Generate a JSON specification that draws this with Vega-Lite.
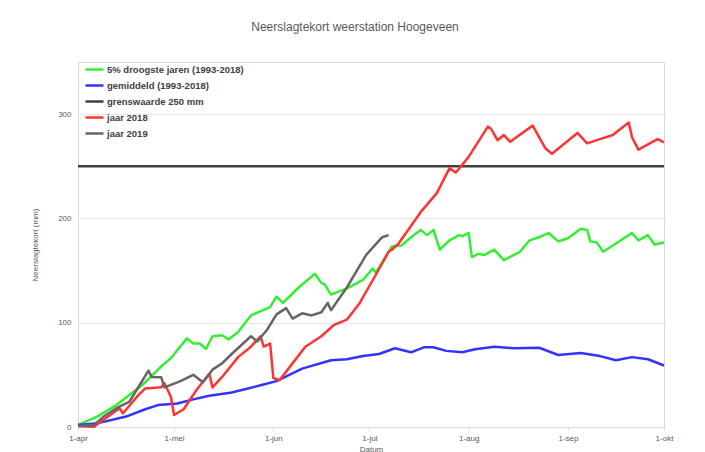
{
  "$schema": "https://vega.github.io/schema/vega-lite/v6.json",
  "autosize": "none",
  "width": 586,
  "height": 365,
  "padding": {"left": 78, "top": 62, "right": 41, "bottom": 25},
  "background": "white",
  "title": {"text": "Neerslagtekort weerstation Hoogeveen", "font": "Liberation Sans", "fontSize": 12, "fontWeight": "normal", "color": "#595959", "offset": 25, "dx": -16},
  "config": {
    "view": {"stroke": "#d9d9d9", "strokeWidth": 1},
    "font": "Liberation Sans"
  },
  "datasets": {
    "d": [
      {"serie": "5% droogste jaren (1993-2018)", "datum": "2018-04-01", "mm": 2},
      {"serie": "5% droogste jaren (1993-2018)", "datum": "2018-04-07", "mm": 10},
      {"serie": "5% droogste jaren (1993-2018)", "datum": "2018-04-13", "mm": 21},
      {"serie": "5% droogste jaren (1993-2018)", "datum": "2018-04-21", "mm": 40},
      {"serie": "5% droogste jaren (1993-2018)", "datum": "2018-04-27", "mm": 58},
      {"serie": "5% droogste jaren (1993-2018)", "datum": "2018-04-30", "mm": 66},
      {"serie": "5% droogste jaren (1993-2018)", "datum": "2018-05-05", "mm": 85},
      {"serie": "5% droogste jaren (1993-2018)", "datum": "2018-05-07", "mm": 80},
      {"serie": "5% droogste jaren (1993-2018)", "datum": "2018-05-09", "mm": 80},
      {"serie": "5% droogste jaren (1993-2018)", "datum": "2018-05-11", "mm": 75},
      {"serie": "5% droogste jaren (1993-2018)", "datum": "2018-05-13", "mm": 87},
      {"serie": "5% droogste jaren (1993-2018)", "datum": "2018-05-16", "mm": 88},
      {"serie": "5% droogste jaren (1993-2018)", "datum": "2018-05-18", "mm": 84},
      {"serie": "5% droogste jaren (1993-2018)", "datum": "2018-05-21", "mm": 91},
      {"serie": "5% droogste jaren (1993-2018)", "datum": "2018-05-25", "mm": 107},
      {"serie": "5% droogste jaren (1993-2018)", "datum": "2018-05-31", "mm": 115},
      {"serie": "5% droogste jaren (1993-2018)", "datum": "2018-06-02", "mm": 125},
      {"serie": "5% droogste jaren (1993-2018)", "datum": "2018-06-04", "mm": 119},
      {"serie": "5% droogste jaren (1993-2018)", "datum": "2018-06-09", "mm": 134},
      {"serie": "5% droogste jaren (1993-2018)", "datum": "2018-06-14", "mm": 147},
      {"serie": "5% droogste jaren (1993-2018)", "datum": "2018-06-16", "mm": 138},
      {"serie": "5% droogste jaren (1993-2018)", "datum": "2018-06-17", "mm": 137},
      {"serie": "5% droogste jaren (1993-2018)", "datum": "2018-06-19", "mm": 127},
      {"serie": "5% droogste jaren (1993-2018)", "datum": "2018-06-24", "mm": 133},
      {"serie": "5% droogste jaren (1993-2018)", "datum": "2018-06-29", "mm": 141},
      {"serie": "5% droogste jaren (1993-2018)", "datum": "2018-07-02", "mm": 152},
      {"serie": "5% droogste jaren (1993-2018)", "datum": "2018-07-03", "mm": 148},
      {"serie": "5% droogste jaren (1993-2018)", "datum": "2018-07-08", "mm": 173},
      {"serie": "5% droogste jaren (1993-2018)", "datum": "2018-07-11", "mm": 174},
      {"serie": "5% droogste jaren (1993-2018)", "datum": "2018-07-14", "mm": 182},
      {"serie": "5% droogste jaren (1993-2018)", "datum": "2018-07-17", "mm": 189},
      {"serie": "5% droogste jaren (1993-2018)", "datum": "2018-07-19", "mm": 184},
      {"serie": "5% droogste jaren (1993-2018)", "datum": "2018-07-21", "mm": 189},
      {"serie": "5% droogste jaren (1993-2018)", "datum": "2018-07-23", "mm": 170},
      {"serie": "5% droogste jaren (1993-2018)", "datum": "2018-07-26", "mm": 179},
      {"serie": "5% droogste jaren (1993-2018)", "datum": "2018-07-29", "mm": 184},
      {"serie": "5% droogste jaren (1993-2018)", "datum": "2018-07-30", "mm": 183},
      {"serie": "5% droogste jaren (1993-2018)", "datum": "2018-08-01", "mm": 186},
      {"serie": "5% droogste jaren (1993-2018)", "datum": "2018-08-02", "mm": 163},
      {"serie": "5% droogste jaren (1993-2018)", "datum": "2018-08-04", "mm": 166},
      {"serie": "5% droogste jaren (1993-2018)", "datum": "2018-08-06", "mm": 165},
      {"serie": "5% droogste jaren (1993-2018)", "datum": "2018-08-09", "mm": 170},
      {"serie": "5% droogste jaren (1993-2018)", "datum": "2018-08-12", "mm": 160},
      {"serie": "5% droogste jaren (1993-2018)", "datum": "2018-08-17", "mm": 168},
      {"serie": "5% droogste jaren (1993-2018)", "datum": "2018-08-20", "mm": 179},
      {"serie": "5% droogste jaren (1993-2018)", "datum": "2018-08-23", "mm": 182},
      {"serie": "5% droogste jaren (1993-2018)", "datum": "2018-08-26", "mm": 186},
      {"serie": "5% droogste jaren (1993-2018)", "datum": "2018-08-29", "mm": 178},
      {"serie": "5% droogste jaren (1993-2018)", "datum": "2018-09-01", "mm": 181},
      {"serie": "5% droogste jaren (1993-2018)", "datum": "2018-09-05", "mm": 190},
      {"serie": "5% droogste jaren (1993-2018)", "datum": "2018-09-07", "mm": 189},
      {"serie": "5% droogste jaren (1993-2018)", "datum": "2018-09-08", "mm": 178},
      {"serie": "5% droogste jaren (1993-2018)", "datum": "2018-09-10", "mm": 177},
      {"serie": "5% droogste jaren (1993-2018)", "datum": "2018-09-12", "mm": 168},
      {"serie": "5% droogste jaren (1993-2018)", "datum": "2018-09-16", "mm": 176},
      {"serie": "5% droogste jaren (1993-2018)", "datum": "2018-09-21", "mm": 186},
      {"serie": "5% droogste jaren (1993-2018)", "datum": "2018-09-23", "mm": 179},
      {"serie": "5% droogste jaren (1993-2018)", "datum": "2018-09-26", "mm": 184},
      {"serie": "5% droogste jaren (1993-2018)", "datum": "2018-09-28", "mm": 175},
      {"serie": "5% droogste jaren (1993-2018)", "datum": "2018-10-01", "mm": 177},

      {"serie": "gemiddeld (1993-2018)", "datum": "2018-04-01", "mm": 2},
      {"serie": "gemiddeld (1993-2018)", "datum": "2018-04-07", "mm": 3.5},
      {"serie": "gemiddeld (1993-2018)", "datum": "2018-04-16", "mm": 10},
      {"serie": "gemiddeld (1993-2018)", "datum": "2018-04-22", "mm": 17},
      {"serie": "gemiddeld (1993-2018)", "datum": "2018-04-26", "mm": 21},
      {"serie": "gemiddeld (1993-2018)", "datum": "2018-05-02", "mm": 22.5},
      {"serie": "gemiddeld (1993-2018)", "datum": "2018-05-07", "mm": 26.5},
      {"serie": "gemiddeld (1993-2018)", "datum": "2018-05-12", "mm": 30},
      {"serie": "gemiddeld (1993-2018)", "datum": "2018-05-19", "mm": 33},
      {"serie": "gemiddeld (1993-2018)", "datum": "2018-05-28", "mm": 40},
      {"serie": "gemiddeld (1993-2018)", "datum": "2018-06-02", "mm": 44},
      {"serie": "gemiddeld (1993-2018)", "datum": "2018-06-10", "mm": 56},
      {"serie": "gemiddeld (1993-2018)", "datum": "2018-06-19", "mm": 64},
      {"serie": "gemiddeld (1993-2018)", "datum": "2018-06-24", "mm": 65},
      {"serie": "gemiddeld (1993-2018)", "datum": "2018-06-29", "mm": 68},
      {"serie": "gemiddeld (1993-2018)", "datum": "2018-07-04", "mm": 70},
      {"serie": "gemiddeld (1993-2018)", "datum": "2018-07-09", "mm": 75.5},
      {"serie": "gemiddeld (1993-2018)", "datum": "2018-07-14", "mm": 71.6},
      {"serie": "gemiddeld (1993-2018)", "datum": "2018-07-18", "mm": 76.4},
      {"serie": "gemiddeld (1993-2018)", "datum": "2018-07-21", "mm": 76.4},
      {"serie": "gemiddeld (1993-2018)", "datum": "2018-07-25", "mm": 73},
      {"serie": "gemiddeld (1993-2018)", "datum": "2018-07-30", "mm": 71.6},
      {"serie": "gemiddeld (1993-2018)", "datum": "2018-08-03", "mm": 74.5},
      {"serie": "gemiddeld (1993-2018)", "datum": "2018-08-09", "mm": 77},
      {"serie": "gemiddeld (1993-2018)", "datum": "2018-08-15", "mm": 75.5},
      {"serie": "gemiddeld (1993-2018)", "datum": "2018-08-23", "mm": 76},
      {"serie": "gemiddeld (1993-2018)", "datum": "2018-08-29", "mm": 69},
      {"serie": "gemiddeld (1993-2018)", "datum": "2018-09-05", "mm": 71},
      {"serie": "gemiddeld (1993-2018)", "datum": "2018-09-11", "mm": 68},
      {"serie": "gemiddeld (1993-2018)", "datum": "2018-09-16", "mm": 64},
      {"serie": "gemiddeld (1993-2018)", "datum": "2018-09-21", "mm": 67},
      {"serie": "gemiddeld (1993-2018)", "datum": "2018-09-26", "mm": 65},
      {"serie": "gemiddeld (1993-2018)", "datum": "2018-10-01", "mm": 59},

      {"serie": "grenswaarde 250 mm", "datum": "2018-04-01", "mm": 250},
      {"serie": "grenswaarde 250 mm", "datum": "2018-10-01", "mm": 250},

      {"serie": "jaar 2018", "datum": "2018-04-01", "mm": 1},
      {"serie": "jaar 2018", "datum": "2018-04-06", "mm": 0.3},
      {"serie": "jaar 2018", "datum": "2018-04-09", "mm": 7},
      {"serie": "jaar 2018", "datum": "2018-04-14", "mm": 18},
      {"serie": "jaar 2018", "datum": "2018-04-15", "mm": 13},
      {"serie": "jaar 2018", "datum": "2018-04-20", "mm": 31},
      {"serie": "jaar 2018", "datum": "2018-04-22", "mm": 37},
      {"serie": "jaar 2018", "datum": "2018-04-27", "mm": 38},
      {"serie": "jaar 2018", "datum": "2018-04-28", "mm": 42},
      {"serie": "jaar 2018", "datum": "2018-04-30", "mm": 29},
      {"serie": "jaar 2018", "datum": "2018-05-01", "mm": 11.5},
      {"serie": "jaar 2018", "datum": "2018-05-04", "mm": 17},
      {"serie": "jaar 2018", "datum": "2018-05-08", "mm": 35.5},
      {"serie": "jaar 2018", "datum": "2018-05-12", "mm": 51},
      {"serie": "jaar 2018", "datum": "2018-05-13", "mm": 38},
      {"serie": "jaar 2018", "datum": "2018-05-16", "mm": 48},
      {"serie": "jaar 2018", "datum": "2018-05-21", "mm": 67},
      {"serie": "jaar 2018", "datum": "2018-05-25", "mm": 77},
      {"serie": "jaar 2018", "datum": "2018-05-28", "mm": 87},
      {"serie": "jaar 2018", "datum": "2018-05-29", "mm": 77},
      {"serie": "jaar 2018", "datum": "2018-05-31", "mm": 80},
      {"serie": "jaar 2018", "datum": "2018-06-01", "mm": 47},
      {"serie": "jaar 2018", "datum": "2018-06-03", "mm": 45},
      {"serie": "jaar 2018", "datum": "2018-06-07", "mm": 61},
      {"serie": "jaar 2018", "datum": "2018-06-11", "mm": 77},
      {"serie": "jaar 2018", "datum": "2018-06-16", "mm": 87},
      {"serie": "jaar 2018", "datum": "2018-06-20", "mm": 98},
      {"serie": "jaar 2018", "datum": "2018-06-24", "mm": 103},
      {"serie": "jaar 2018", "datum": "2018-06-28", "mm": 119},
      {"serie": "jaar 2018", "datum": "2018-07-03", "mm": 146},
      {"serie": "jaar 2018", "datum": "2018-07-07", "mm": 168},
      {"serie": "jaar 2018", "datum": "2018-07-08", "mm": 170},
      {"serie": "jaar 2018", "datum": "2018-07-10", "mm": 175.5},
      {"serie": "jaar 2018", "datum": "2018-07-17", "mm": 206},
      {"serie": "jaar 2018", "datum": "2018-07-22", "mm": 224},
      {"serie": "jaar 2018", "datum": "2018-07-26", "mm": 248},
      {"serie": "jaar 2018", "datum": "2018-07-28", "mm": 244},
      {"serie": "jaar 2018", "datum": "2018-08-01", "mm": 259},
      {"serie": "jaar 2018", "datum": "2018-08-07", "mm": 288},
      {"serie": "jaar 2018", "datum": "2018-08-08", "mm": 286},
      {"serie": "jaar 2018", "datum": "2018-08-10", "mm": 275},
      {"serie": "jaar 2018", "datum": "2018-08-12", "mm": 280},
      {"serie": "jaar 2018", "datum": "2018-08-14", "mm": 273.5},
      {"serie": "jaar 2018", "datum": "2018-08-16", "mm": 278},
      {"serie": "jaar 2018", "datum": "2018-08-21", "mm": 289},
      {"serie": "jaar 2018", "datum": "2018-08-25", "mm": 267},
      {"serie": "jaar 2018", "datum": "2018-08-27", "mm": 262},
      {"serie": "jaar 2018", "datum": "2018-09-04", "mm": 282},
      {"serie": "jaar 2018", "datum": "2018-09-07", "mm": 272},
      {"serie": "jaar 2018", "datum": "2018-09-11", "mm": 276},
      {"serie": "jaar 2018", "datum": "2018-09-15", "mm": 280},
      {"serie": "jaar 2018", "datum": "2018-09-20", "mm": 292},
      {"serie": "jaar 2018", "datum": "2018-09-21", "mm": 278},
      {"serie": "jaar 2018", "datum": "2018-09-23", "mm": 266},
      {"serie": "jaar 2018", "datum": "2018-09-29", "mm": 276},
      {"serie": "jaar 2018", "datum": "2018-10-01", "mm": 273},

      {"serie": "jaar 2019", "datum": "2018-04-01", "mm": 1},
      {"serie": "jaar 2019", "datum": "2018-04-06", "mm": 2},
      {"serie": "jaar 2019", "datum": "2018-04-09", "mm": 10},
      {"serie": "jaar 2019", "datum": "2018-04-13", "mm": 18},
      {"serie": "jaar 2019", "datum": "2018-04-17", "mm": 24},
      {"serie": "jaar 2019", "datum": "2018-04-23", "mm": 54},
      {"serie": "jaar 2019", "datum": "2018-04-24", "mm": 48},
      {"serie": "jaar 2019", "datum": "2018-04-27", "mm": 47.6},
      {"serie": "jaar 2019", "datum": "2018-04-28", "mm": 38},
      {"serie": "jaar 2019", "datum": "2018-05-03", "mm": 44},
      {"serie": "jaar 2019", "datum": "2018-05-07", "mm": 50},
      {"serie": "jaar 2019", "datum": "2018-05-10", "mm": 43},
      {"serie": "jaar 2019", "datum": "2018-05-13", "mm": 55},
      {"serie": "jaar 2019", "datum": "2018-05-16", "mm": 61},
      {"serie": "jaar 2019", "datum": "2018-05-19", "mm": 70},
      {"serie": "jaar 2019", "datum": "2018-05-25", "mm": 87},
      {"serie": "jaar 2019", "datum": "2018-05-27", "mm": 82},
      {"serie": "jaar 2019", "datum": "2018-05-30", "mm": 93},
      {"serie": "jaar 2019", "datum": "2018-06-02", "mm": 108},
      {"serie": "jaar 2019", "datum": "2018-06-05", "mm": 114},
      {"serie": "jaar 2019", "datum": "2018-06-07", "mm": 104},
      {"serie": "jaar 2019", "datum": "2018-06-10", "mm": 109},
      {"serie": "jaar 2019", "datum": "2018-06-13", "mm": 107},
      {"serie": "jaar 2019", "datum": "2018-06-16", "mm": 110},
      {"serie": "jaar 2019", "datum": "2018-06-18", "mm": 119},
      {"serie": "jaar 2019", "datum": "2018-06-19", "mm": 112},
      {"serie": "jaar 2019", "datum": "2018-06-24", "mm": 134},
      {"serie": "jaar 2019", "datum": "2018-06-30", "mm": 165},
      {"serie": "jaar 2019", "datum": "2018-07-05", "mm": 182},
      {"serie": "jaar 2019", "datum": "2018-07-07", "mm": 184}
    ]
  },
  "data": {"name": "d"},
  "mark": {"type": "line", "strokeWidth": 2.5, "strokeJoin": "round"},
  "encoding": {
    "x": {
      "field": "datum", "type": "temporal",
      "scale": {"type": "utc", "domain": [{"year": 2018, "month": 4, "date": 1, "utc": true}, {"year": 2018, "month": 10, "date": 1, "utc": true}]},
      "axis": {
        "title": "Datum", "titleFont": "Liberation Sans", "titleFontSize": 8, "titleFontWeight": "normal", "titleColor": "#595959", "titlePadding": 3,
        "values": [
          {"year": 2018, "month": 4, "date": 1, "utc": true},
          {"year": 2018, "month": 5, "date": 1, "utc": true},
          {"year": 2018, "month": 6, "date": 1, "utc": true},
          {"year": 2018, "month": 7, "date": 1, "utc": true},
          {"year": 2018, "month": 8, "date": 1, "utc": true},
          {"year": 2018, "month": 9, "date": 1, "utc": true},
          {"year": 2018, "month": 10, "date": 1, "utc": true}
        ],
        "labelExpr": "utcdate(datum.value) + '-' + ['jan','feb','mrt','apr','mei','jun','jul','aug','sep','okt','nov','dec'][utcmonth(datum.value)]",
        "labelFontSize": 8, "labelColor": "#595959", "labelPadding": 4, "labelFlush": false,
        "grid": false, "domainColor": "#d9d9d9", "tickColor": "#d9d9d9", "tickSize": 3
      }
    },
    "y": {
      "field": "mm", "type": "quantitative",
      "scale": {"domain": [0, 350], "nice": false},
      "axis": {
        "title": "Neerslagtekort (mm)", "titleFontSize": 8, "titleFontWeight": "normal", "titleColor": "#595959", "titlePadding": 18,
        "values": [0, 100, 200, 300], "labelFontSize": 8, "labelColor": "#595959", "labelPadding": 7,
        "domain": false, "ticks": false, "grid": true, "gridColor": "#e6e6e6"
      }
    },
    "color": {
      "field": "serie", "type": "nominal",
      "scale": {
        "domain": ["5% droogste jaren (1993-2018)", "gemiddeld (1993-2018)", "grenswaarde 250 mm", "jaar 2018", "jaar 2019"],
        "range": ["#33ee33", "#3333ff", "#404040", "#ff3333", "#666666"]
      },
      "legend": {
        "title": null, "orient": "none", "legendX": 6, "legendY": -3, "padding": 0,
        "symbolType": "stroke", "symbolSize": 324, "symbolStrokeWidth": 2.5,
        "rowPadding": 0, "labelOffset": 2, "labelFontSize": 9.5, "labelFontWeight": "bold", "labelColor": "#404040", "labelLimit": 300
      }
    }
  }
}
